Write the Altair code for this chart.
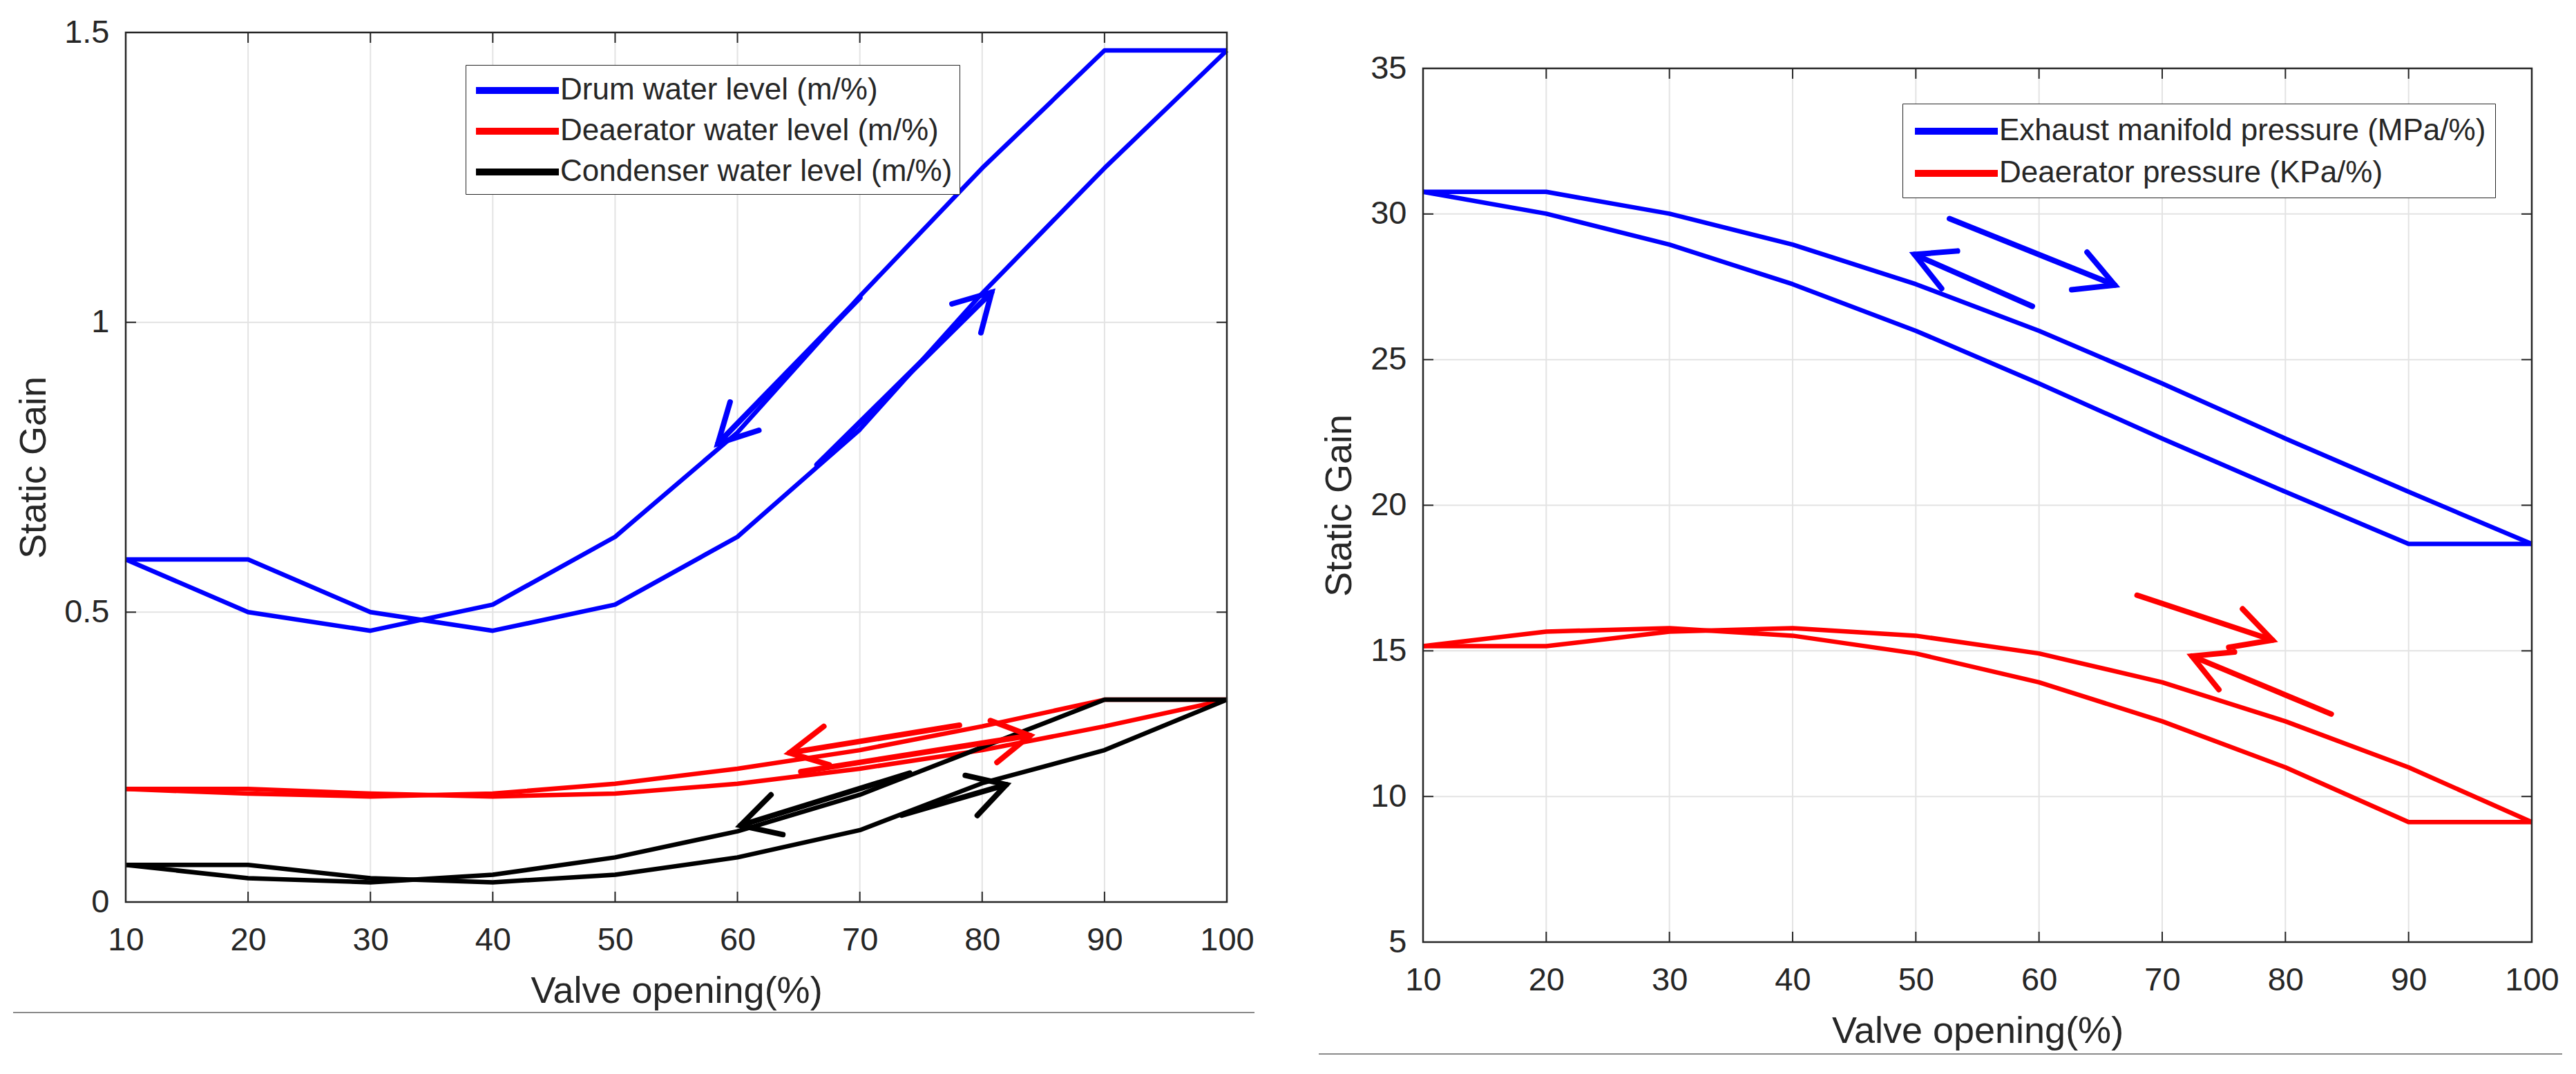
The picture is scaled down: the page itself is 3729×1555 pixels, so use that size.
import altair as alt
import pandas as pd

FONT = "Liberation Sans"
INK = "#262626"
GRID = "#e3e3e3"

# ---------------- data ----------------
x_vals = [10, 20, 30, 40, 50, 60, 70, 80, 90, 100]

# left panel (water levels), two branches of each hysteresis loop
drum_inc = [0.591, 0.591, 0.500, 0.468, 0.513, 0.630, 0.815, 1.050, 1.266, 1.469]
drum_dec = [0.591, 0.500, 0.468, 0.513, 0.630, 0.810, 1.045, 1.266, 1.469, 1.469]
deaer_lvl_inc = [0.195, 0.195, 0.187, 0.182, 0.187, 0.204, 0.230, 0.262, 0.303, 0.349]
deaer_lvl_dec = [0.195, 0.187, 0.182, 0.187, 0.204, 0.230, 0.262, 0.303, 0.349, 0.349]
cond_inc = [0.064, 0.064, 0.041, 0.034, 0.047, 0.077, 0.124, 0.205, 0.262, 0.349]
cond_dec = [0.064, 0.041, 0.034, 0.047, 0.077, 0.122, 0.185, 0.267, 0.349, 0.349]

# right panel (pressures)
exh_dec = [30.76, 30.76, 30.01, 28.95, 27.59, 25.99, 24.18, 22.29, 20.46, 18.67]
exh_inc = [30.76, 30.01, 28.95, 27.59, 25.99, 24.18, 22.29, 20.46, 18.67, 18.67]
deaer_p_a = [15.16, 15.66, 15.78, 15.52, 14.91, 13.92, 12.58, 11.00, 9.12, 9.12]
deaer_p_b = [15.16, 15.16, 15.66, 15.78, 15.52, 14.91, 13.92, 12.58, 11.00, 9.12]

left_series = ["Drum water level (m/%)", "Deaerator water level (m/%)", "Condenser water level (m/%)"]
left_colors = ["#0000ff", "#ff0000", "#000000"]
right_series = ["Exhaust manifold pressure (MPa/%)", "Deaerator pressure (KPa/%)"]
right_colors = ["#0000ff", "#ff0000"]

left_yticks = [0, 0.5, 1, 1.5]
right_yticks = [5, 10, 15, 20, 25, 30, 35]

# hand-drawn direction arrows: shaft start, tip, arm 1, arm 2 (data units)
left_arrows = [
    (left_series[0], [70.0, 58.4, 59.4, 61.75], [1.0425, 0.791, 0.8626, 0.8137]),
    (left_series[0], [66.5, 80.77, 77.53, 79.9], [0.7545, 1.0517, 1.0318, 0.982]),
    (left_series[1], [78.14, 64.25, 67.06, 67.5], [0.305, 0.2573, 0.303, 0.2367]),
    (left_series[1], [65.18, 83.91, 80.67, 81.21], [0.2248, 0.2871, 0.313, 0.2407]),
    (left_series[2], [74.09, 60.25, 62.74, 63.71], [0.2224, 0.1322, 0.185, 0.1164]),
    (left_series[2], [73.43, 81.97, 78.62, 79.6], [0.150, 0.2025, 0.2184, 0.1493]),
]
right_arrows = [
    (right_series[0], [52.73, 66.15, 63.9, 62.65], [29.84, 27.56, 28.69, 27.40]),
    (right_series[0], [59.46, 49.89, 53.38, 52.09], [26.83, 28.61, 28.73, 27.44]),
    (right_series[1], [67.96, 78.95, 76.52, 75.4], [16.91, 15.37, 16.44, 15.12]),
    (right_series[1], [83.72, 72.41, 75.87, 74.6], [12.83, 14.82, 14.96, 13.67]),
]


def lines_df(items):
    rows = []
    for name, tag, vals in items:
        for i, (x, y) in enumerate(zip(x_vals, vals)):
            rows.append({"series": name, "branch": name + tag, "x": x, "y": y, "o": i})
    return pd.DataFrame(rows)


def arrows_df(arrows):
    rows = []
    for k, (name, xs, ys) in enumerate(arrows):
        for part, idx in (("s", [0, 1]), ("h", [2, 1, 3])):
            for j, p in enumerate(idx):
                rows.append({"series": name, "branch": f"a{k}{part}", "x": xs[p], "y": ys[p], "o": j})
    return pd.DataFrame(rows)


LEG_FS = 44
LEG_SYM = LEG_FS * LEG_FS          # symbol "size": sqrt = row height
LINE_HALF = 60                     # half length of the legend line, px
half_units = LINE_HALF / (LEG_FS / 2)
LEG_PATH = f"M{-half_units:.3f},0L{half_units:.3f},0"


def panel(df, adf, series, colors, ydom, yticks, W, H, top, legx, legy, legpad, rowpad, ytitle_x,
          sep_left, sep_right, sep_y):
    VH = top + H
    xs = alt.Scale(domain=[10, 100], nice=False, zero=False)
    ys = alt.Scale(domain=ydom, range=[VH, top], nice=False, zero=False)
    xax = alt.Axis(values=x_vals, grid=False, ticks=False, tickSize=0,
                   domain=False, labelFont=FONT, labelFontSize=47, labelColor=INK, labelPadding=69,
                   labelBaseline="alphabetic", labelFlush=False, labelOverlap=False,
                   title="Valve opening(%)", titleFont=FONT, titleFontSize=54, titleFontWeight="normal",
                   titleColor=INK, titleY=145, titleBaseline="alphabetic")
    yax = alt.Axis(values=yticks, grid=False, ticks=False, tickSize=0,
                   domain=False, labelFont=FONT, labelFontSize=47, labelColor=INK, labelPadding=24,
                   labelFlush=False, labelOverlap=False, format="~g", title="Static Gain", titleFont=FONT,
                   titleFontSize=54, titleFontWeight="normal", titleColor=INK, titleX=ytitle_x,
                   titleBaseline="middle")
    X = alt.X("x:Q", scale=xs, axis=xax)
    Y = alt.Y("y:Q", scale=ys, axis=yax)
    color = alt.Color("series:N", scale=alt.Scale(domain=series, range=colors),
                      legend=alt.Legend(title=None, orient="none", legendX=legx, legendY=legy,
                                        symbolType=LEG_PATH, symbolSize=LEG_SYM, symbolStrokeWidth=10,
                                        symbolOffset=LINE_HALF - LEG_FS / 2,
                                        labelOffset=2 * LINE_HALF - LEG_FS + 6 - 47,
                                        labelFont=FONT, labelFontSize=LEG_FS, labelColor=INK,
                                        labelLimit=2000, strokeColor=INK, fillColor="white",
                                        padding=legpad, rowPadding=rowpad))
    xt = pd.DataFrame({"x": x_vals})
    yt = pd.DataFrame({"y": yticks})
    one = pd.DataFrame({"k": [0]})
    grid_x = alt.Chart(xt).mark_rule(color=GRID, strokeWidth=2).encode(
        x=X, y=alt.value(top), y2=alt.value(VH))
    grid_y = alt.Chart(yt).mark_rule(color=GRID, strokeWidth=2).encode(
        y=Y, x=alt.value(0), x2=alt.value(W))
    lines = alt.Chart(df).mark_line(strokeWidth=6.5, strokeJoin="round").encode(
        x=X, y=Y, color=color, detail="branch:N", order="o:Q")
    arrows = alt.Chart(adf).mark_line(strokeWidth=8, strokeCap="round", strokeJoin="miter").encode(
        x=X, y=Y, color=color, detail="branch:N", order="o:Q")
    tick_b = alt.Chart(xt).mark_rule(color=INK, strokeWidth=2).encode(x=X, y=alt.value(VH), y2=alt.value(VH - 15))
    tick_t = alt.Chart(xt).mark_rule(color=INK, strokeWidth=2).encode(x=X, y=alt.value(top), y2=alt.value(top + 15))
    tick_l = alt.Chart(yt).mark_rule(color=INK, strokeWidth=2).encode(y=Y, x=alt.value(0), x2=alt.value(15))
    tick_r = alt.Chart(yt).mark_rule(color=INK, strokeWidth=2).encode(y=Y, x=alt.value(W - 15), x2=alt.value(W))
    frame = alt.Chart(one).mark_rect(fill="transparent", stroke=INK, strokeWidth=2.5).encode(
        x=alt.value(0), x2=alt.value(W), y=alt.value(top), y2=alt.value(VH))
    sep = alt.Chart(one).mark_rule(color="#8a8a8a", strokeWidth=2).encode(
        x=alt.value(sep_left), x2=alt.value(W + sep_right), y=alt.value(VH + sep_y))
    return alt.layer(grid_x, grid_y, lines, arrows, tick_b, tick_t, tick_l, tick_r, frame, sep).properties(
        width=W, height=VH)


left = panel(
    lines_df([(left_series[0], "i", drum_inc), (left_series[0], "d", drum_dec),
              (left_series[1], "i", deaer_lvl_inc), (left_series[1], "d", deaer_lvl_dec),
              (left_series[2], "i", cond_inc), (left_series[2], "d", cond_dec)]),
    arrows_df(left_arrows), left_series, left_colors, [0, 1.5], left_yticks,
    1594, 1259, 0, 492, 47, 10, 10, -133, -163, 40, 160)

right = panel(
    lines_df([(right_series[0], "d", exh_dec), (right_series[0], "i", exh_inc),
              (right_series[1], "a", deaer_p_a), (right_series[1], "b", deaer_p_b)]),
    arrows_df(right_arrows), right_series, right_colors, [5, 35], right_yticks,
    1605, 1265, 52, 694, 52 + 51, 13, 12, -121, -151, 44, 162)

chart = alt.hconcat(left, right, spacing=91).resolve_scale(color="independent").properties(
    padding={"left": 10, "top": 15, "right": 0, "bottom": 0}
).configure_view(strokeOpacity=0)

chart.save("out.html", embed_options={"renderer": "svg", "actions": False})
